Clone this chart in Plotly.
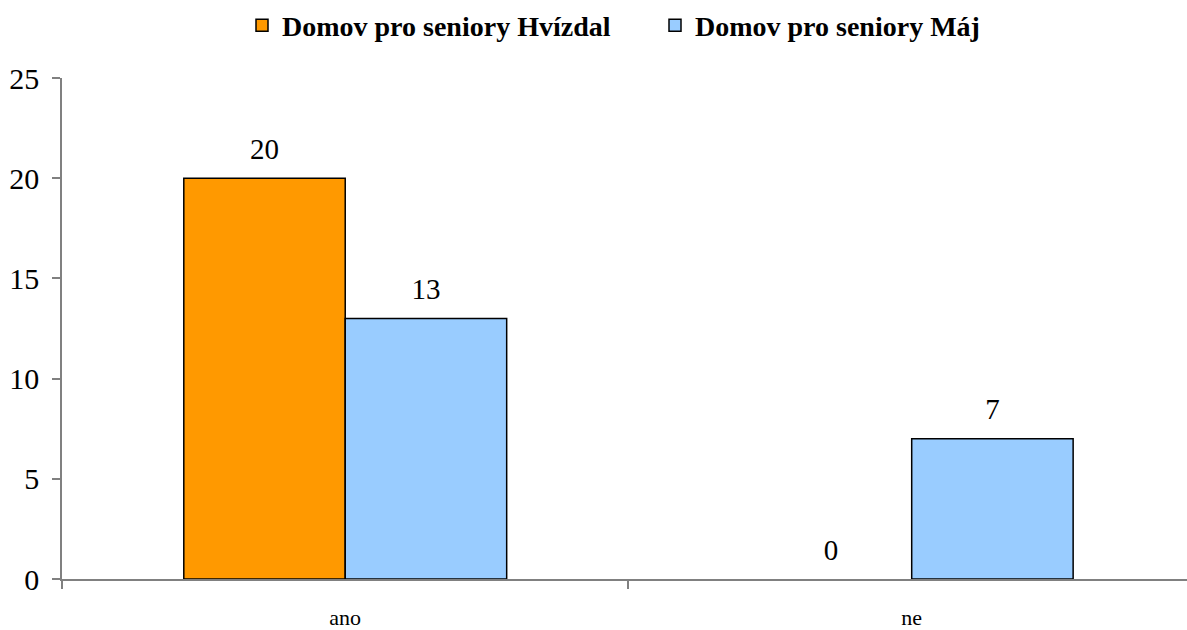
import plotly.graph_objects as go

categories = ["ano", "ne"]
series_names = ["Domov pro seniory Hvízdal", "Domov pro seniory Máj"]
hvizdal = [20, 0]
maj = [13, 7]
colors = ["#FF9900", "#99CCFF"]
y_ticks = [0, 5, 10, 15, 20, 25]

FONT = "Liberation Serif"

fig = go.Figure()
for name, vals, col in zip(series_names, [hvizdal, maj], colors):
    fig.add_trace(go.Bar(
        x=categories, y=vals, name=name,
        marker=dict(color=col, line=dict(color="black", width=[1.5 if v else 0 for v in vals])),
        text=[f"<span style='font-size:29px'>{v}</span><br> " for v in vals],
        textposition="outside",
        textfont=dict(family=FONT, size=11, color="black"),
        cliponaxis=False,
    ))

fig.update_layout(
    width=1187, height=630,
    margin=dict(l=62, r=0, t=78, b=49),
    paper_bgcolor="white", plot_bgcolor="white",
    barmode="group", bargap=0.43, bargroupgap=0,
    font=dict(family=FONT, color="black"),
    legend=dict(orientation="h", x=0.16, xanchor="left", y=0.999, yanchor="top",
                yref="container", font=dict(family=FONT, size=28, color="black", weight="bold"),
                entrywidth=368, tracegroupgap=0),
    showlegend=True,
)
fig.update_xaxes(
    type="category", range=[-0.5, 1.486],
    showline=True, linecolor="#808080", linewidth=1.5,
    ticks="outside", tickson="boundaries", ticklen=8, tickcolor="#808080", tickwidth=1.5,
    tickfont=dict(family=FONT, size=22, color="black"),
    ticklabelstandoff=18, showgrid=False, zeroline=False,
)
fig.update_yaxes(
    range=[0, 25], tickvals=y_ticks,
    showline=True, linecolor="#808080", linewidth=1.5,
    ticks="outside", ticklen=8, tickcolor="#808080", tickwidth=1.5,
    tickfont=dict(family=FONT, size=30, color="black"),
    ticklabelstandoff=7, showgrid=False, zeroline=False,
)

fig.write_html("out.html")
